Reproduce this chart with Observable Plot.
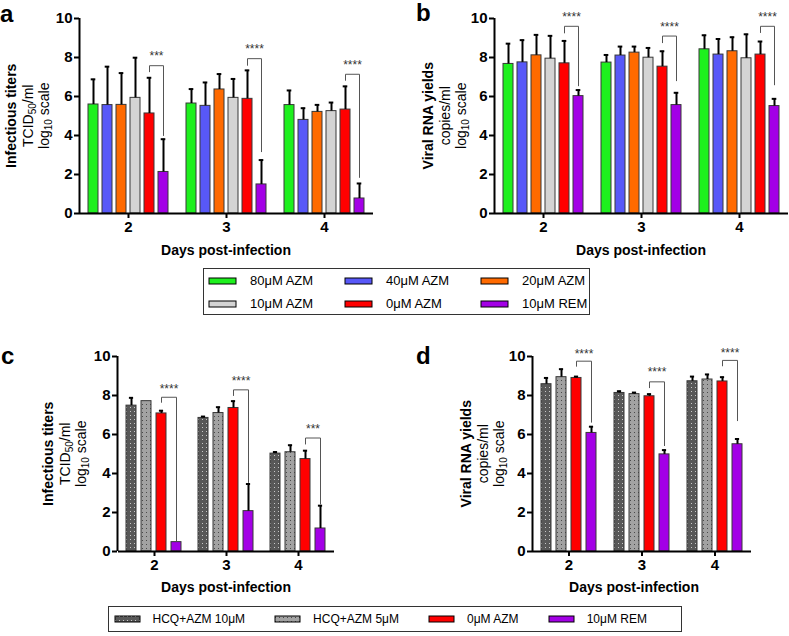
<!DOCTYPE html>
<html><head><meta charset="utf-8">
<script src="https://cdn.jsdelivr.net/npm/d3@7"></script>
<script src="https://cdn.jsdelivr.net/npm/@observablehq/plot@0.6"></script>
<style>
body{margin:0;background:#fff;font-family:"Liberation Sans",Arial,Helvetica,sans-serif;color:#000}
#root{position:relative;width:789px;height:636px;overflow:hidden;background:#fff}
.panel{position:absolute}
.panel > svg{position:absolute;left:0;top:0}
.letter{position:absolute;font-size:24px;font-weight:bold;line-height:17px}
.ylab{position:absolute;width:220px;text-align:center;font-size:14px;line-height:16.5px;transform:rotate(-90deg);white-space:nowrap}
.ylab b{font-weight:bold}
.ylab sub{font-size:10px;vertical-align:-3px;line-height:0}
.xtitle{position:absolute;width:200px;text-align:center;font-size:14px;font-weight:bold;line-height:14px;white-space:nowrap}
.legend{position:absolute;box-sizing:border-box;border:1.5px solid #333;background:#fff}
.lg1{display:grid;grid-template-columns:136px 136px 110px;grid-auto-rows:23px;padding:0 0 0 4px;font-size:13px}
.lg2{display:flex;align-items:center;gap:29px;padding:0 0 0 4.5px;font-size:12px}
.item{display:flex;align-items:center;white-space:nowrap}
.sw{display:block;flex:none}
</style></head>
<body>
<svg width="0" height="0" style="position:absolute">
  <defs>
    <pattern id="hcq10" width="4" height="4" patternUnits="userSpaceOnUse">
      <rect width="4" height="4" fill="#585858"/>
      <rect x="1" y="1" width="1" height="1" fill="#c8c8c8"/>
    </pattern>
    <pattern id="hcq5" width="4" height="4" patternUnits="userSpaceOnUse">
      <rect width="4" height="4" fill="#a2a2a2"/>
      <rect x="1" y="2" width="1" height="1" fill="#4a4a4a"/>
    </pattern>
  </defs>
</svg>
<div id="root"></div>
<script>
// ---------- data ----------
const days = ["2", "3", "4"];
const seriesAB = ["80μM AZM", "40μM AZM", "20μM AZM", "10μM AZM", "0μM AZM", "10μM REM"];
const colorsAB = ["#1ef01e", "#5858f8", "#ff6a00", "#d4d4d4", "#ff0000", "#a300e6"];
const seriesCD = ["HCQ+AZM 10μM", "HCQ+AZM 5μM", "0μM AZM", "10μM REM"];
const fillsCD = ["url(#hcq10)", "url(#hcq5)", "#ff0000", "#a300e6"];

// panel a: infectious titers (log10 TCID50/ml), rows = days, columns = series
const aMean = [[5.59, 5.56, 5.57, 5.93, 5.13, 2.13], [5.64, 5.52, 6.36, 5.93, 5.88, 1.49], [5.56, 4.80, 5.21, 5.25, 5.33, 0.77]];
const aSD = [[1.29, 1.97, 1.63, 2.06, 1.83, 1.68], [0.74, 1.20, 0.79, 0.97, 1.46, 1.25], [0.75, 0.60, 0.36, 0.44, 1.19, 0.77]];
const aBrTop = [7.58, 7.94, 7.14], aBrLeft = [7.27, 7.60, 6.83], aBrRight = [4.00, 3.17, 1.85];
const aStarY = [8.2, 8.6, 7.77], aStars = ["***", "****", "****"];

// panel b: viral RNA yields (log10 copies/ml)
const bMean = [[7.67, 7.75, 8.11, 7.94, 7.70, 6.02], [7.74, 8.10, 8.25, 7.99, 7.53, 5.56], [8.42, 8.15, 8.32, 7.96, 8.15, 5.51]];
const bSD = [[1.04, 1.14, 1.05, 1.17, 1.15, 0.31], [0.39, 0.46, 0.31, 0.50, 0.79, 0.63], [0.72, 0.80, 0.72, 1.23, 0.67, 0.37]];
const bBrTop = [9.6, 9.1, 9.6], bBrLeft = [9.26, 8.76, 9.28], bBrRight = [6.55, 6.81, 6.6];
const bStarY = [10.2, 9.71, 10.2], bStars = ["****", "****", "****"];

// panel c: infectious titers
const cMean = [[7.48, 7.71, 7.08, 0.48], [6.85, 7.10, 7.36, 2.07], [5.02, 5.09, 4.74, 1.18]];
const cSD = [[0.40, 0, 0.14, 0], [0.07, 0.30, 0.35, 1.39], [0.08, 0.36, 0.43, 1.17]];
const cBrTop = [7.91, 8.29, 5.82], cBrLeft = [7.65, 8.0, 5.51], cBrRight = [0.55, 3.54, 2.43];
const cStarY = [8.48, 8.89, 6.42], cStars = ["****", "****", "***"];

// panel d: viral RNA yields
const dMean = [[8.58, 8.94, 8.90, 6.08], [8.13, 8.07, 7.96, 4.98], [8.73, 8.82, 8.72, 5.50]];
const dSD = [[0.32, 0.41, 0.07, 0.32], [0.09, 0.08, 0.11, 0.22], [0.24, 0.26, 0.22, 0.27]];
const dBrTop = [9.76, 8.7, 9.8], dBrLeft = [9.5, 8.4, 9.52], dBrRight = [6.63, 5.43, 6.71];
const dStarY = [10.28, 9.35, 10.3], dStars = ["****", "****", "****"];

const yTicks = [0, 2, 4, 6, 8, 10];

// ---------- drawing ----------
const FONT = '"Liberation Sans", Arial, Helvetica, sans-serif';
const root = document.getElementById("root");

function build(cfg, starDx) {
  const rows = [];
  days.forEach((day, di) => cfg.series.forEach((s, si) =>
    rows.push({day, series: s, mean: cfg.mean[di][si], sd: cfg.sd[di][si]})));
  const errs = rows.filter(d => d.sd > 0);
  const ctrl = cfg.series[cfg.series.length - 2], ref = cfg.series[cfg.series.length - 1];
  const brk = [];
  days.forEach((day, di) => {
    brk.push({day, series: ctrl, y: cfg.brLeft[di]}, {day, series: ctrl, y: cfg.brTop[di]},
             {day, series: ref, y: cfg.brTop[di]}, {day, series: ref, y: cfg.brRight[di]});
  });
  const stars = days.map((day, di) => ({day, series: ctrl, y: cfg.starY[di], label: cfg.stars[di]}));
  return Plot.plot({
    width: cfg.w, height: cfg.h,
    marginLeft: cfg.ml, marginRight: cfg.mr, marginTop: cfg.mt, marginBottom: cfg.mb,
    style: {background: "none", fontFamily: FONT, fontSize: "15px", fontWeight: "bold", color: "#000", overflow: "visible"},
    fx: {domain: days, padding: 0, axis: null, label: null},
    x: {domain: cfg.series, paddingInner: cfg.pi, paddingOuter: cfg.po, axis: null, label: null},
    y: {domain: [0, 10], axis: null, label: null},
    color: {domain: cfg.series, range: cfg.fills},
    marks: [
      Plot.barY(rows, {fx: "day", x: "series", y: "mean", fill: "series", stroke: "#383838", strokeWidth: 1}),
      Plot.ruleX(errs, {fx: "day", x: "series", y1: "mean", y2: d => d.mean + d.sd, stroke: "#000", strokeWidth: 2}),
      Plot.tickY(errs, {fx: "day", x: "series", y: d => d.mean + d.sd, stroke: "#000", strokeWidth: 2, insetLeft: cfg.capInset, insetRight: cfg.capInset}),
      Plot.line(brk, {fx: "day", x: "series", y: "y", z: "day", stroke: "#555", strokeWidth: 1}),
      Plot.text(stars, {fx: "day", x: "series", y: "y", text: "label", dx: starDx, dy: 3, fontSize: 12, fontWeight: "normal", fill: "#333"}),
      Plot.ruleY([0], {stroke: "#000", strokeWidth: 2}),
      Plot.axisFx({anchor: "bottom", tickSize: 5, tickPadding: 3, strokeWidth: 2, fontSize: 15, fontWeight: "bold", label: null})
    ]
  });
}

// y axis (line, ticks, labels) drawn in a non-faceted overlay sharing the same frame and y scale
function yAxis(cfg) {
  return Plot.plot({
    width: cfg.w, height: cfg.h,
    marginLeft: cfg.ml, marginRight: cfg.mr, marginTop: cfg.mt, marginBottom: cfg.mb,
    style: {background: "none", fontFamily: FONT, fontSize: "15px", fontWeight: "bold", color: "#000", overflow: "visible"},
    x: {domain: [0, 1], axis: null},
    y: {domain: [0, 10], axis: null, label: null},
    marks: [
      Plot.ruleX([0], {y1: 0, y2: 10, stroke: "#000", strokeWidth: 2}),
      Plot.axisY({ticks: yTicks, tickSize: 5, tickPadding: 2, strokeWidth: 2, fontSize: 15, fontWeight: "bold", tickFormat: d => String(d), label: null})
    ]
  });
}

function panel(cfg) {
  const probe = build(cfg, 0);
  const xs = probe.scale("x");
  const ctrl = cfg.series[cfg.series.length - 2], ref = cfg.series[cfg.series.length - 1];
  const starDx = (xs.apply(ref) - xs.apply(ctrl)) / 2;
  const wrap = document.createElement("div");
  wrap.className = "panel";
  wrap.style.left = cfg.left + "px";
  wrap.style.top = cfg.top + "px";
  wrap.style.width = cfg.w + "px";
  wrap.style.height = cfg.h + "px";
  wrap.appendChild(build(cfg, starDx));
  wrap.appendChild(yAxis(cfg));
  root.appendChild(wrap);
}

panel({left: 0, top: 0, w: 385, h: 245, ml: 79, mr: 12, mt: 18, mb: 32, pi: 0.29, po: 0.455, capInset: 2.7,
  series: seriesAB, fills: colorsAB, mean: aMean, sd: aSD, brTop: aBrTop, brLeft: aBrLeft, brRight: aBrRight, starY: aStarY, stars: aStars});
panel({left: 400, top: 0, w: 389, h: 245, ml: 94, mr: 1, mt: 18, mb: 32, pi: 0.29, po: 0.455, capInset: 2.7,
  series: seriesAB, fills: colorsAB, mean: bMean, sd: bSD, brTop: bBrTop, brLeft: bBrLeft, brRight: bBrRight, starY: bStarY, stars: bStars});
panel({left: 0, top: 338, w: 345, h: 245, ml: 117, mr: 10, mt: 18, mb: 32, pi: 0.31, po: 0.47, capInset: 2.9,
  series: seriesCD, fills: fillsCD, mean: cMean, sd: cSD, brTop: cBrTop, brLeft: cBrLeft, brRight: cBrRight, starY: cStarY, stars: cStars});
panel({left: 400, top: 338, w: 389, h: 245, ml: 132, mr: 38, mt: 18, mb: 32, pi: 0.31, po: 0.47, capInset: 2.9,
  series: seriesCD, fills: fillsCD, mean: dMean, sd: dSD, brTop: dBrTop, brLeft: dBrLeft, brRight: dBrRight, starY: dStarY, stars: dStars});

// ---------- text ----------
function addHTML(html) { root.insertAdjacentHTML("beforeend", html); }
[["a", 0, 5], ["b", 416, 3.7], ["c", 1, 346.7], ["d", 416, 346.7]].forEach(([t, x, y]) =>
  addHTML(`<div class="letter" style="left:${x}px;top:${y}px">${t}</div>`));

const yLabels = [
  ["Infectious titers", "TCID<sub>50</sub>/ml", 28, 115.5],
  ["Viral RNA yields", "copies/ml", 445, 115.5],
  ["Infectious titers", "TCID<sub>50</sub>/ml", 65, 453.5],
  ["Viral RNA yields", "copies/ml", 483, 453.5]
];
yLabels.forEach(([t1, t2, cx, cy]) =>
  addHTML(`<div class="ylab" style="left:${cx - 110}px;top:${cy - 24.75}px"><b>${t1}</b><br>${t2}<br>log<sub>10</sub> scale</div>`));

[[226, 255], [641, 255], [226, 592], [634, 592]].forEach(([cx, base]) =>
  addHTML(`<div class="xtitle" style="left:${cx - 100}px;top:${base - 11.85}px">Days post-infection</div>`));

// ---------- legends ----------
function swatch(fill, w, h) {
  return `<svg class="sw" width="${w + 2}" height="${h + 2}"><rect x="1" y="1" width="${w}" height="${h}" fill="${fill}" stroke="#000" stroke-width="1"/></svg>`;
}
addHTML(`<div class="legend lg1" style="left:203px;top:268px;width:387px;height:47px">` +
  seriesAB.map((s, i) => `<div class="item">${swatch(colorsAB[i], 27, 6)}<span style="margin-left:13px">${s}</span></div>`).join("") +
  `</div>`);
addHTML(`<div class="legend lg2" style="left:108px;top:606px;width:574px;height:26px">` +
  seriesCD.map((s, i) => `<div class="item">${swatch(fillsCD[i], 25, 6)}<span style="margin-left:12px">${s}</span></div>`).join("") +
  `</div>`);
</script>
</body></html>
